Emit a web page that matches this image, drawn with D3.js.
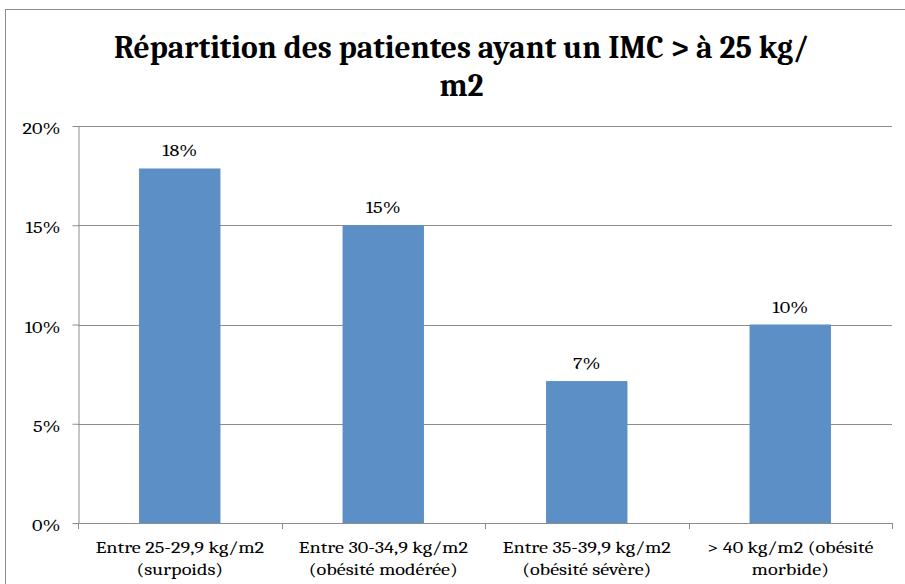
<!DOCTYPE html>
<html>
<head>
<meta charset="utf-8">
<script src="https://cdn.jsdelivr.net/npm/d3@7"></script>
<style>
  body { margin: 0; background: #fff; }
  svg { display: block; }
</style>
</head>
<body>
<div id="chart"></div>
<script>
// chart data
const categories = [
  ["Entre 25-29,9 kg/m2", "(surpoids)"],
  ["Entre 30-34,9 kg/m2", "(obésité modérée)"],
  ["Entre 35-39,9 kg/m2", "(obésité sévère)"],
  ["> 40 kg/m2 (obésité", "morbide)"]
];
const values = [0.1786, 0.15, 0.0715, 0.10];
const valueLabels = ["18%", "15%", "7%", "10%"];
const yTicks = [0, 0.05, 0.10, 0.15, 0.20];
const titleLines = ["Répartition des patientes ayant un IMC > à 25 kg/", "m2"];

const width = 905, height = 584;
const margin = {top: 126, right: 13, bottom: 61, left: 78};
const serif = "Cambria, Caladea, 'DejaVu Serif', serif";
const stretch = 1.19; // the small text in the original is a bit wide

const svg = d3.select("#chart").append("svg")
  .attr("width", width)
  .attr("height", height);

// outer chart border
svg.append("rect")
  .attr("x", 5.5).attr("y", 9.5)
  .attr("width", width + 10).attr("height", height + 10)
  .attr("fill", "none")
  .attr("stroke", "#8c8c8c");

const x = d3.scaleBand()
  .domain(d3.range(categories.length))
  .range([margin.left, width - margin.right])
  .paddingInner(0.6)
  .paddingOuter(0.3);

const y = d3.scaleLinear()
  .domain([0, 0.2])
  .range([height - margin.bottom, margin.top]);

// gridlines
svg.append("g")
  .selectAll("line")
  .data(yTicks.slice(1))
  .join("line")
  .attr("x1", margin.left).attr("x2", width - margin.right)
  .attr("y1", d => Math.round(y(d)) + 0.5).attr("y2", d => Math.round(y(d)) + 0.5)
  .attr("stroke", "#8c8c8c");

// y axis
svg.append("g")
  .attr("transform", `translate(${margin.left + 0.5},0)`)
  .call(d3.axisLeft(y).tickValues(yTicks).tickFormat(d3.format(".0%")).tickSize(6).tickSizeOuter(0).tickPadding(12))
  .call(g => g.selectAll("line, path").attr("stroke", "#8c8c8c"))
  .call(g => g.selectAll("text")
    .attr("fill", "#000")
    .attr("dy", "0.45em")
    .attr("transform", function() {
      const tx = +d3.select(this).attr("x");
      d3.select(this).attr("x", 0);
      return `translate(${tx},0) scale(${stretch},1)`;
    })
    .style("font-family", serif)
    .style("font-size", "17px"));

// bars
svg.append("g")
  .selectAll("rect")
  .data(values)
  .join("rect")
  .attr("x", (d, i) => x(i))
  .attr("width", x.bandwidth())
  .attr("y", d => y(d))
  .attr("height", d => y(0) - y(d))
  .attr("fill", "#5b8fc6");

// value labels
svg.append("g")
  .selectAll("text")
  .data(values)
  .join("text")
  .attr("transform", (d, i) => `translate(${x(i) + x.bandwidth() / 2},${y(d) - 12}) scale(${stretch},1)`)
  .attr("text-anchor", "middle")
  .style("font-family", serif)
  .style("font-size", "17px")
  .text((d, i) => valueLabels[i]);

// x axis with ticks between categories
const step = x.step();
svg.append("line")
  .attr("x1", margin.left).attr("x2", width - margin.right)
  .attr("y1", Math.round(y(0)) + 0.5).attr("y2", Math.round(y(0)) + 0.5)
  .attr("stroke", "#8c8c8c");
svg.append("g")
  .selectAll("line")
  .data(d3.range(categories.length + 1))
  .join("line")
  .attr("x1", i => Math.round(margin.left + i * step) + 0.5)
  .attr("x2", i => Math.round(margin.left + i * step) + 0.5)
  .attr("y1", Math.round(y(0)))
  .attr("y2", Math.round(y(0)) + 6)
  .attr("stroke", "#8c8c8c");

// category labels
const catText = svg.append("g")
  .selectAll("text")
  .data(categories)
  .join("text")
  .attr("transform", (d, i) => `translate(${x(i) + x.bandwidth() / 2},0) scale(${stretch},1)`)
  .attr("text-anchor", "middle")
  .style("font-family", serif)
  .style("font-size", "17px");
catText.selectAll("tspan")
  .data(d => d)
  .join("tspan")
  .attr("x", 0)
  .attr("y", (d, j) => 553 + j * 22)
  .text(d => d);

// title
svg.append("text")
  .attr("text-anchor", "middle")
  .style("font-family", serif)
  .style("font-weight", "bold")
  .style("font-size", "31.5px")
  .selectAll("tspan")
  .data(titleLines)
  .join("tspan")
  .attr("x", 461.5)
  .attr("y", (d, i) => 58 + i * 38)
  .text(d => d);
</script>
</body>
</html>
